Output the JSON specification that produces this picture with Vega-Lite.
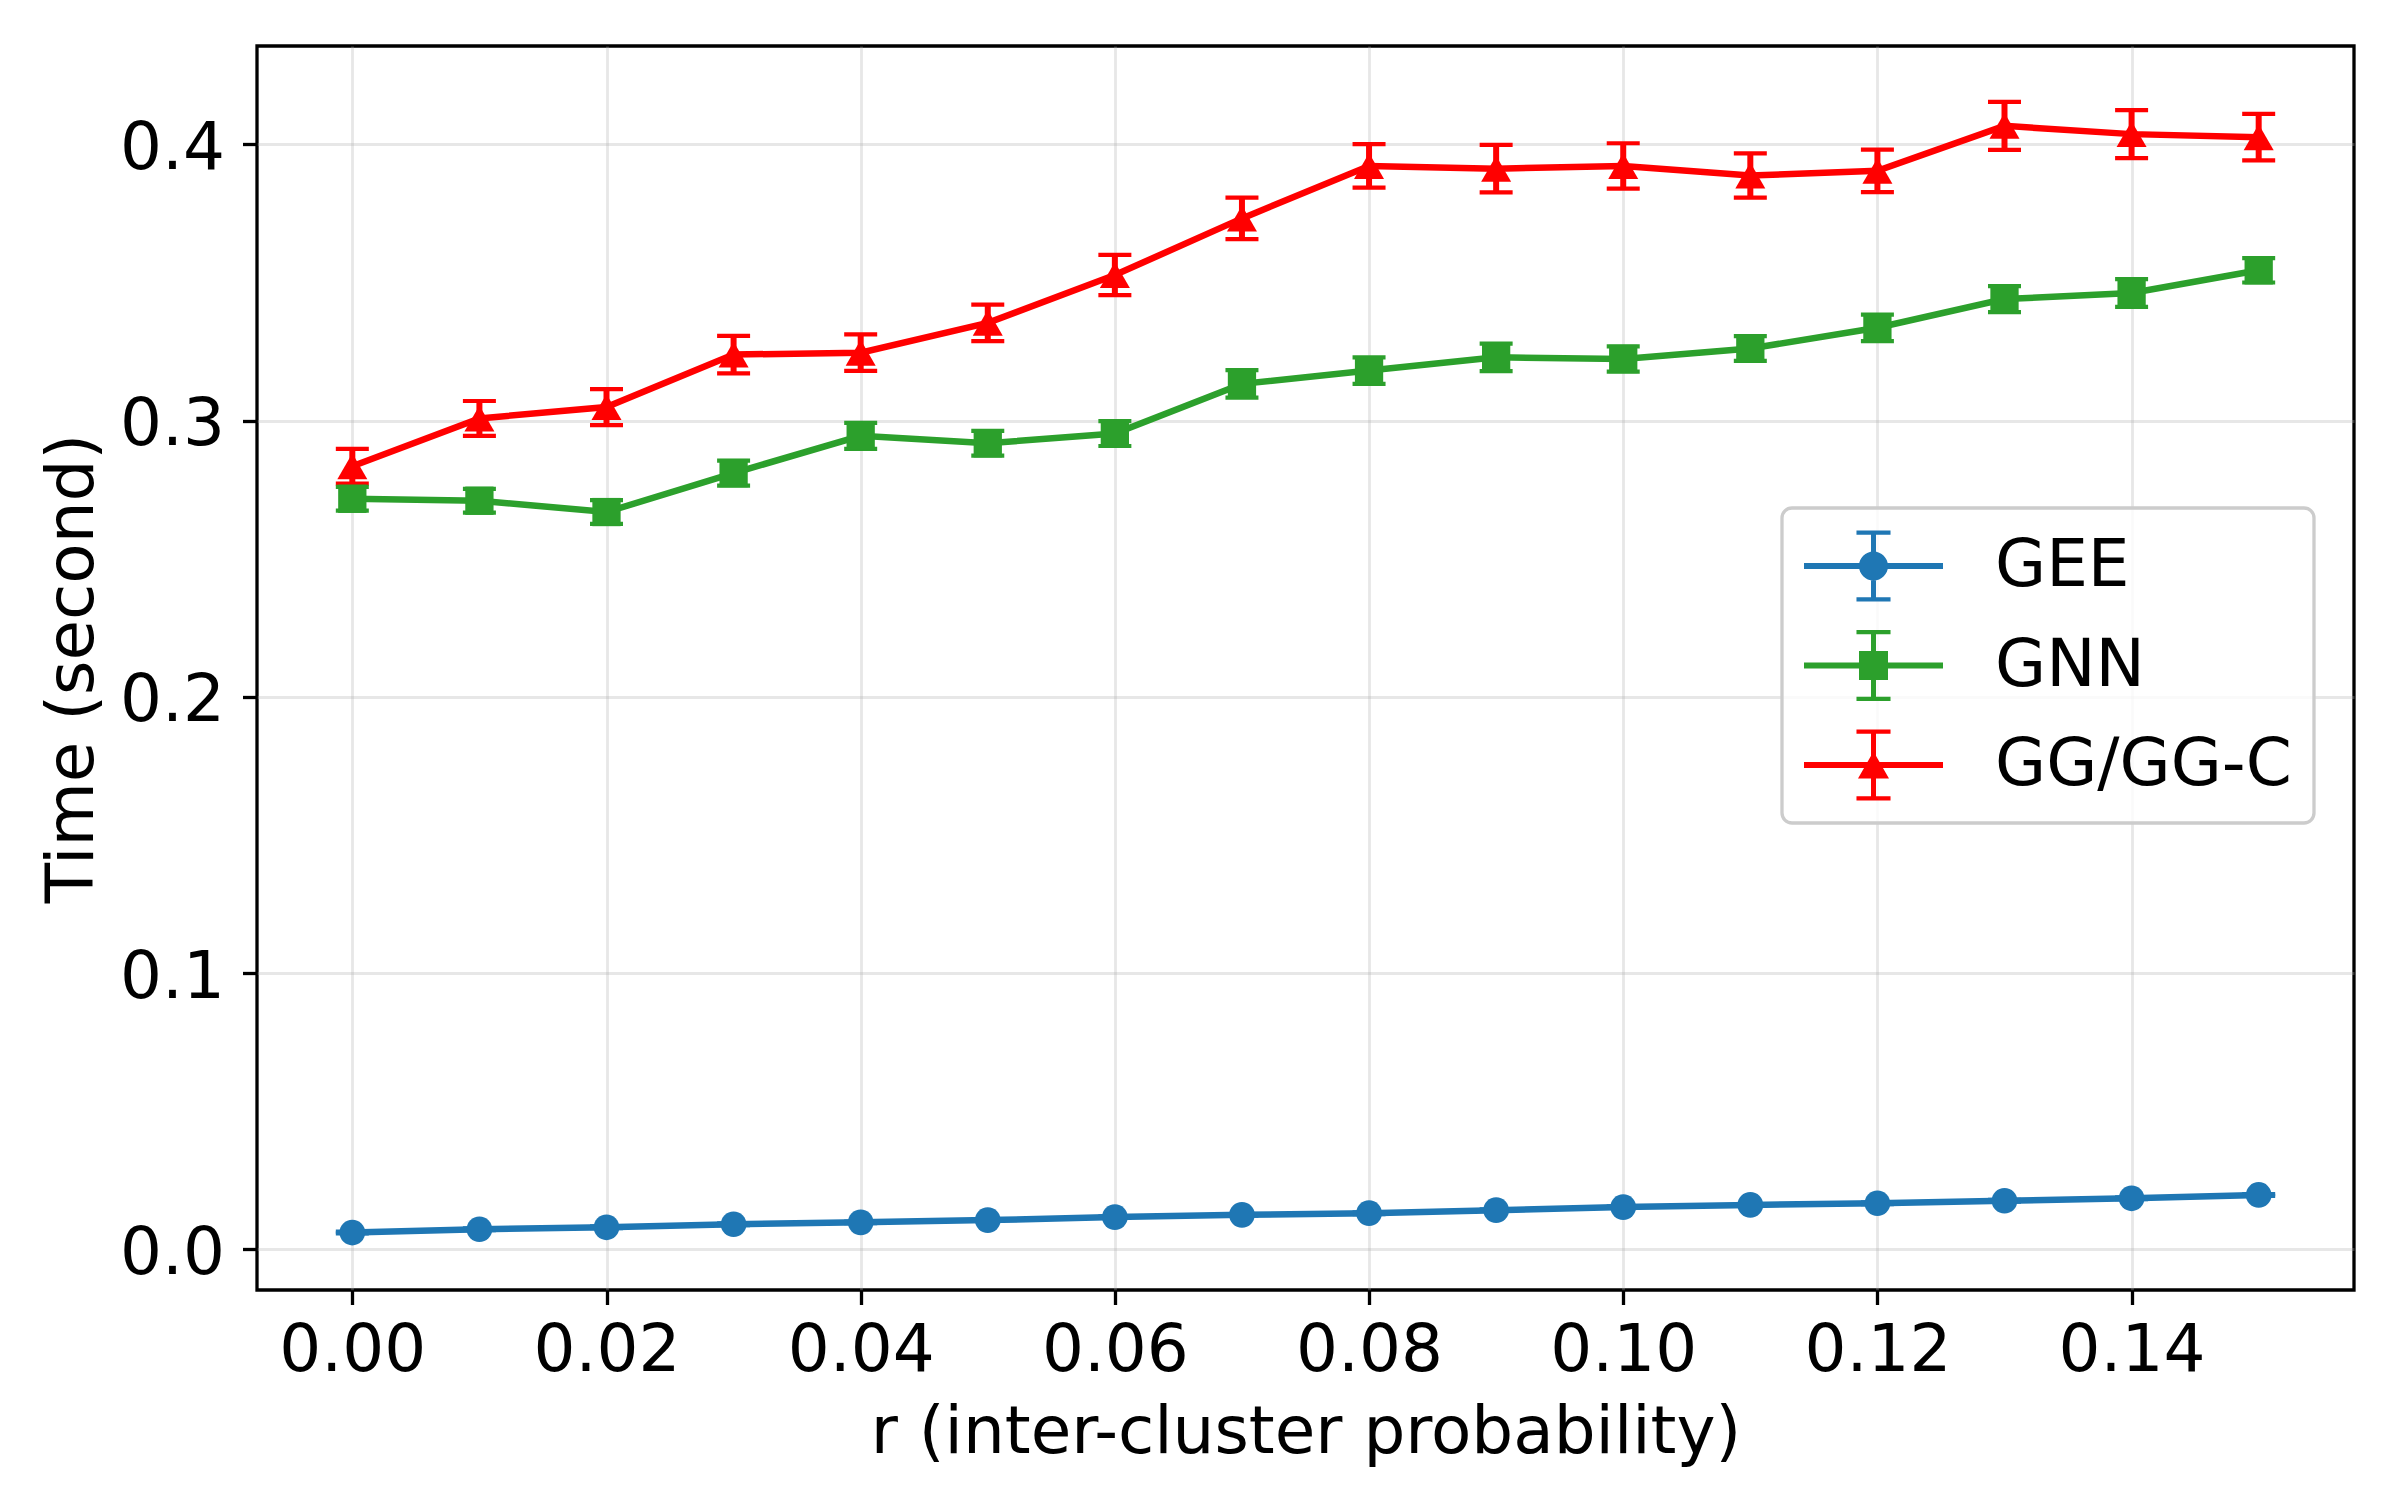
{
  "$schema": "https://vega.github.io/schema/vega-lite/v6.json",
  "width": 2097,
  "height": 1244,
  "autosize": {"type": "none"},
  "padding": {"left": 257, "top": 46, "right": 46, "bottom": 210},
  "background": "white",
  "config": {
    "font": "DejaVu Sans",
    "view": {"stroke": "black", "strokeWidth": 3.3},
    "axis": {
      "domain": false,
      "tickColor": "black",
      "tickWidth": 3.3,
      "tickSize": 14.5,
      "labelFont": "DejaVu Sans",
      "labelFontSize": 66,
      "labelColor": "black",
      "titleFont": "DejaVu Sans",
      "titleFontSize": 66,
      "titleFontWeight": "normal",
      "titleColor": "black",
      "gridColor": "#b0b0b0",
      "gridOpacity": 0.3,
      "gridWidth": 2.8
    }
  },
  "data": {
    "values": [
      {"r": 0.00, "series": "GEE", "time": 0.0061, "lower": 0.0058, "upper": 0.0064},
      {"r": 0.01, "series": "GEE", "time": 0.0073, "lower": 0.0070, "upper": 0.0076},
      {"r": 0.02, "series": "GEE", "time": 0.0080, "lower": 0.0077, "upper": 0.0083},
      {"r": 0.03, "series": "GEE", "time": 0.0091, "lower": 0.0088, "upper": 0.0094},
      {"r": 0.04, "series": "GEE", "time": 0.0098, "lower": 0.0095, "upper": 0.0101},
      {"r": 0.05, "series": "GEE", "time": 0.0106, "lower": 0.0103, "upper": 0.0109},
      {"r": 0.06, "series": "GEE", "time": 0.0117, "lower": 0.0114, "upper": 0.0120},
      {"r": 0.07, "series": "GEE", "time": 0.0125, "lower": 0.0122, "upper": 0.0128},
      {"r": 0.08, "series": "GEE", "time": 0.0131, "lower": 0.0128, "upper": 0.0134},
      {"r": 0.09, "series": "GEE", "time": 0.0142, "lower": 0.0139, "upper": 0.0145},
      {"r": 0.10, "series": "GEE", "time": 0.0153, "lower": 0.0150, "upper": 0.0156},
      {"r": 0.11, "series": "GEE", "time": 0.0161, "lower": 0.0158, "upper": 0.0164},
      {"r": 0.12, "series": "GEE", "time": 0.0167, "lower": 0.0164, "upper": 0.0170},
      {"r": 0.13, "series": "GEE", "time": 0.0176, "lower": 0.0173, "upper": 0.0179},
      {"r": 0.14, "series": "GEE", "time": 0.0185, "lower": 0.0182, "upper": 0.0188},
      {"r": 0.15, "series": "GEE", "time": 0.0197, "lower": 0.0194, "upper": 0.0200},
      {"r": 0.00, "series": "GNN", "time": 0.2717, "lower": 0.2674, "upper": 0.2760},
      {"r": 0.01, "series": "GNN", "time": 0.2710, "lower": 0.2667, "upper": 0.2753},
      {"r": 0.02, "series": "GNN", "time": 0.2669, "lower": 0.2626, "upper": 0.2712},
      {"r": 0.03, "series": "GNN", "time": 0.2810, "lower": 0.2765, "upper": 0.2855},
      {"r": 0.04, "series": "GNN", "time": 0.2945, "lower": 0.2898, "upper": 0.2992},
      {"r": 0.05, "series": "GNN", "time": 0.2918, "lower": 0.2873, "upper": 0.2963},
      {"r": 0.06, "series": "GNN", "time": 0.2953, "lower": 0.2908, "upper": 0.2998},
      {"r": 0.07, "series": "GNN", "time": 0.3133, "lower": 0.3083, "upper": 0.3183},
      {"r": 0.08, "series": "GNN", "time": 0.3181, "lower": 0.3133, "upper": 0.3229},
      {"r": 0.09, "series": "GNN", "time": 0.3229, "lower": 0.3179, "upper": 0.3279},
      {"r": 0.10, "series": "GNN", "time": 0.3223, "lower": 0.3177, "upper": 0.3269},
      {"r": 0.11, "series": "GNN", "time": 0.3261, "lower": 0.3216, "upper": 0.3306},
      {"r": 0.12, "series": "GNN", "time": 0.3336, "lower": 0.3288, "upper": 0.3384},
      {"r": 0.13, "series": "GNN", "time": 0.3440, "lower": 0.3393, "upper": 0.3487},
      {"r": 0.14, "series": "GNN", "time": 0.3462, "lower": 0.3412, "upper": 0.3512},
      {"r": 0.15, "series": "GNN", "time": 0.3544, "lower": 0.3500, "upper": 0.3588},
      {"r": 0.00, "series": "GG/GG-C", "time": 0.2835, "lower": 0.2772, "upper": 0.2898},
      {"r": 0.01, "series": "GG/GG-C", "time": 0.3008, "lower": 0.2945, "upper": 0.3071},
      {"r": 0.02, "series": "GG/GG-C", "time": 0.3049, "lower": 0.2984, "upper": 0.3114},
      {"r": 0.03, "series": "GG/GG-C", "time": 0.3239, "lower": 0.3171, "upper": 0.3307},
      {"r": 0.04, "series": "GG/GG-C", "time": 0.3246, "lower": 0.3180, "upper": 0.3312},
      {"r": 0.05, "series": "GG/GG-C", "time": 0.3354, "lower": 0.3288, "upper": 0.3420},
      {"r": 0.06, "series": "GG/GG-C", "time": 0.3527, "lower": 0.3454, "upper": 0.3600},
      {"r": 0.07, "series": "GG/GG-C", "time": 0.3732, "lower": 0.3657, "upper": 0.3807},
      {"r": 0.08, "series": "GG/GG-C", "time": 0.3922, "lower": 0.3843, "upper": 0.4001},
      {"r": 0.09, "series": "GG/GG-C", "time": 0.3912, "lower": 0.3826, "upper": 0.3998},
      {"r": 0.10, "series": "GG/GG-C", "time": 0.3922, "lower": 0.3840, "upper": 0.4004},
      {"r": 0.11, "series": "GG/GG-C", "time": 0.3887, "lower": 0.3807, "upper": 0.3967},
      {"r": 0.12, "series": "GG/GG-C", "time": 0.3904, "lower": 0.3827, "upper": 0.3981},
      {"r": 0.13, "series": "GG/GG-C", "time": 0.4067, "lower": 0.3980, "upper": 0.4154},
      {"r": 0.14, "series": "GG/GG-C", "time": 0.4037, "lower": 0.3950, "upper": 0.4124},
      {"r": 0.15, "series": "GG/GG-C", "time": 0.4026, "lower": 0.3942, "upper": 0.4110}
    ]
  },
  "encoding": {
    "x": {
      "field": "r",
      "type": "quantitative",
      "scale": {"domain": [-0.0075, 0.1575], "nice": false, "zero": false},
      "axis": {
        "values": [0, 0.02, 0.04, 0.06, 0.08, 0.1, 0.12, 0.14],
        "format": ".2f",
        "title": "r (inter-cluster probability)",
        "titleX": 1048.5,
        "titleY": 162.7,
        "titleAnchor": null,
        "titleAlign": "center",
        "titleBaseline": "alphabetic",
        "labelBaseline": "alphabetic",
        "labelPadding": 66,
        "labelFlush": false,
        "labelOverlap": false
      }
    },
    "color": {
      "field": "series",
      "type": "nominal",
      "scale": {"domain": ["GEE", "GNN", "GG/GG-C"], "range": ["#1f77b4", "#2ca02c", "#ff0000"]},
      "legend": {
        "title": null,
        "orient": "none",
        "legendX": 1525,
        "legendY": 462,
        "padding": 22,
        "cornerRadius": 10,
        "fillColor": "rgba(255,255,255,0.8)",
        "strokeColor": "#cccccc",
        "symbolSize": 19321,
        "symbolStrokeWidth": 0,
        "clipHeight": 72,
        "labelFont": "DejaVu Sans",
        "labelFontSize": 66,
        "labelColor": "black",
        "labelOffset": 52,
        "rowPadding": 27.5,
        "labelLimit": 600,
        "encode": {
          "legend": {"update": {"strokeWidth": {"value": 3.3}}},
          "symbols": {
            "update": {
              "shape": {"signal": "datum.value === 'GEE' ? 'M-1,-0.043H1V0.043H-1Z M-0.036,-0.51H0.036V0.51H-0.036Z M-0.245,-0.51H0.245V-0.45H-0.245Z M-0.245,0.45H0.245V0.51H-0.245Z M0.209,0A0.209,0.209,0,1,1,-0.209,0A0.209,0.209,0,1,1,0.209,0Z' : datum.value === 'GNN' ? 'M-1,-0.043H1V0.043H-1Z M-0.036,-0.51H0.036V0.51H-0.036Z M-0.245,-0.51H0.245V-0.45H-0.245Z M-0.245,0.45H0.245V0.51H-0.245Z M-0.209,-0.209H0.209V0.209H-0.209Z' : 'M-1,-0.043H1V0.043H-1Z M-0.036,-0.51H0.036V0.51H-0.036Z M-0.245,-0.51H0.245V-0.45H-0.245Z M-0.245,0.45H0.245V0.51H-0.245Z M0,-0.194L0.223,0.194L-0.223,0.194Z'"},
              "fill": {"scale": "color", "field": "value"},
              "stroke": {"value": "transparent"},
              "opacity": {"value": 1}
            }
          }
        }
      }
    }
  },
  "layer": [
    {
      "mark": {"type": "rule", "strokeWidth": 6},
      "encoding": {
        "y": {
          "field": "lower",
          "type": "quantitative",
          "scale": {"domain": [-0.0147, 0.4356], "nice": false, "zero": false},
          "axis": {
            "values": [0, 0.1, 0.2, 0.3, 0.4],
            "format": ".1f",
            "title": "Time (second)",
            "titleX": -165,
            "titleY": 622,
            "titleAngle": 270,
            "titleAlign": "center",
            "titleBaseline": "alphabetic",
            "labelBaseline": "alphabetic",
            "labelOffset": 24,
            "labelPadding": 18,
            "labelFlush": false,
            "labelOverlap": false
          }
        },
        "y2": {"field": "upper"}
      }
    },
    {
      "mark": {"type": "tick", "orient": "horizontal", "size": 33, "thickness": 4.2, "opacity": 1},
      "encoding": {"y": {"field": "lower", "type": "quantitative"}}
    },
    {
      "mark": {"type": "tick", "orient": "horizontal", "size": 33, "thickness": 4.2, "opacity": 1},
      "encoding": {"y": {"field": "upper", "type": "quantitative"}}
    },
    {
      "mark": {"type": "line", "strokeWidth": 6.5},
      "encoding": {"y": {"field": "time", "type": "quantitative"}}
    },
    {
      "transform": [{"filter": {"field": "series", "equal": "GEE"}}],
      "mark": {"type": "point", "filled": true, "opacity": 1, "strokeWidth": 0, "shape": "circle", "size": 660},
      "encoding": {"y": {"field": "time", "type": "quantitative"}}
    },
    {
      "transform": [{"filter": {"field": "series", "equal": "GNN"}}],
      "mark": {"type": "point", "filled": true, "opacity": 1, "strokeWidth": 0, "shape": "square", "size": 800},
      "encoding": {"y": {"field": "time", "type": "quantitative"}}
    },
    {
      "transform": [{"filter": {"field": "series", "equal": "GG/GG-C"}}],
      "mark": {"type": "point", "filled": true, "opacity": 1, "strokeWidth": 0, "shape": "triangle-up", "size": 900},
      "encoding": {"y": {"field": "time", "type": "quantitative"}}
    }
  ]
}
